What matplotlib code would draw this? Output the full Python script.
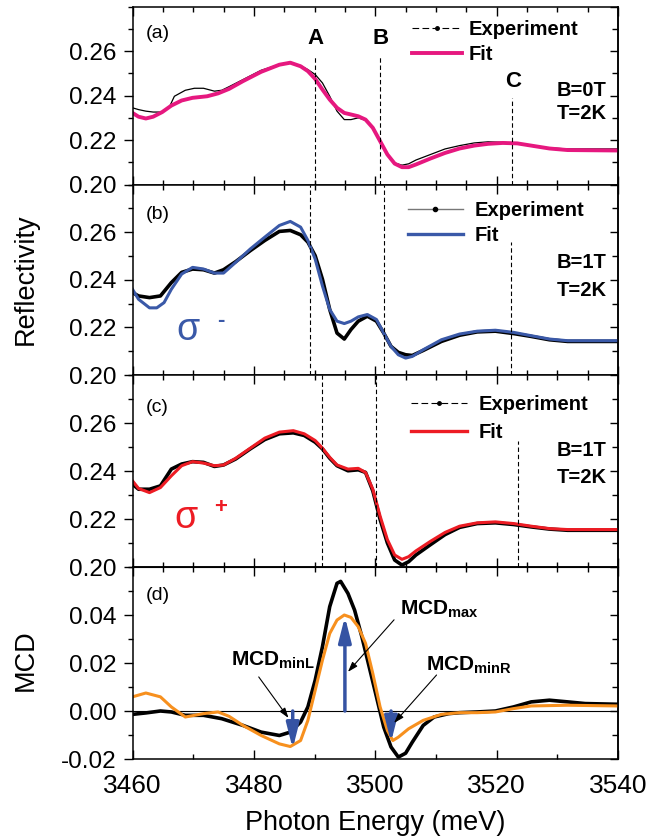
import numpy as np
import matplotlib
matplotlib.use("Agg")
import matplotlib.pyplot as plt
from matplotlib.lines import Line2D
from matplotlib.ticker import MultipleLocator
import matplotlib.transforms as mtransforms

plt.rcParams['font.family'] = ['Liberation Sans', 'DejaVu Sans']
plt.rcParams['mathtext.fontset'] = 'custom'
plt.rcParams['mathtext.rm'] = 'Liberation Sans'
plt.rcParams['mathtext.bf'] = 'Liberation Sans:bold'

# ---- datos ----
# (a) B=0T
E_a_exp = [3460.0, 3461.0, 3462.2, 3463.4, 3464.9, 3466.1, 3466.9, 3468.7, 3470.2, 3471.7, 3473.5, 3474.7,
           3475.9, 3478.2, 3481.2, 3484.2, 3486.0, 3487.7, 3488.9, 3490.1, 3491.3, 3492.5, 3493.7, 3494.9,
           3496.0, 3497.2, 3498.4, 3499.6, 3500.8, 3502.0, 3503.2, 3504.4, 3505.5, 3506.7, 3509.1, 3511.5,
           3513.9, 3516.3, 3518.6, 3521.0, 3523.4, 3525.7, 3528.7, 3531.7, 3540.0]
R_a_exp = [0.2345, 0.2337, 0.2330, 0.2326, 0.2326, 0.2350, 0.2397, 0.2424, 0.2433, 0.2433, 0.2420, 0.2424,
           0.2440, 0.2472, 0.2514, 0.2540, 0.2548, 0.2535, 0.2517, 0.2495, 0.2457, 0.2397, 0.2330, 0.2292,
           0.2292, 0.2300, 0.2289, 0.2255, 0.2202, 0.2135, 0.2097, 0.2087, 0.2093, 0.2110, 0.2135, 0.2160,
           0.2175, 0.2187, 0.2192, 0.2190, 0.2185, 0.2172, 0.2165, 0.2160, 0.2160]
E_a_fit = [3460.0, 3461.0, 3462.2, 3463.4, 3464.9, 3466.4, 3468.1, 3469.9, 3472.3, 3474.1, 3475.9, 3478.2,
           3481.2, 3484.2, 3486.0, 3487.7, 3488.9, 3490.1, 3491.3, 3492.5, 3493.7, 3494.9, 3496.0, 3497.2,
           3498.4, 3499.6, 3500.8, 3502.0, 3503.2, 3504.4, 3505.5, 3506.7, 3509.1, 3511.5, 3513.9, 3516.3,
           3518.6, 3521.0, 3523.4, 3525.7, 3528.7, 3531.7, 3540.0]
R_a_fit = [0.2322, 0.2305, 0.2297, 0.2305, 0.2326, 0.2355, 0.2378, 0.2390, 0.2397, 0.2410, 0.2430, 0.2465,
           0.2507, 0.2539, 0.2548, 0.2532, 0.2510, 0.2475, 0.2427, 0.2382, 0.2345, 0.2322, 0.2315, 0.2307,
           0.2292, 0.2255, 0.2195, 0.2135, 0.2094, 0.2078, 0.2078, 0.2090, 0.2117, 0.2142, 0.2162, 0.2175,
           0.2183, 0.2187, 0.2185, 0.2175, 0.2162, 0.2155, 0.2153]

# (b) sigma-
E_b_exp = [3460.0, 3461.0, 3462.8, 3464.6, 3466.4, 3468.1, 3469.9, 3471.7, 3473.5, 3475.0, 3477.0, 3479.4,
           3481.8, 3484.2, 3486.0, 3487.7, 3488.9, 3490.1, 3491.3, 3492.5, 3493.7, 3494.9, 3496.0, 3497.2,
           3498.7, 3500.2, 3501.4, 3502.6, 3503.8, 3505.0, 3506.1, 3507.9, 3510.9, 3513.9, 3516.8, 3519.8,
           3522.8, 3525.7, 3528.7, 3531.7, 3540.0]
R_b_exp = [0.2346, 0.2332, 0.2325, 0.2332, 0.2388, 0.2431, 0.2445, 0.2442, 0.2428, 0.2442, 0.2476, 0.2522,
           0.2565, 0.2603, 0.2607, 0.2589, 0.2558, 0.2501, 0.2402, 0.2275, 0.2176, 0.2151, 0.2191, 0.2226,
           0.2247, 0.2226, 0.2176, 0.2120, 0.2095, 0.2085, 0.2082, 0.2103, 0.2141, 0.2167, 0.2181, 0.2184,
           0.2174, 0.2162, 0.2148, 0.2141, 0.2141]
E_b_fit = [3460.0, 3461.0, 3462.8, 3464.0, 3465.2, 3466.4, 3468.1, 3469.9, 3471.7, 3473.5, 3475.0, 3477.0,
           3479.4, 3481.8, 3484.2, 3486.0, 3487.7, 3488.9, 3490.1, 3491.3, 3492.5, 3493.7, 3494.9, 3496.0,
           3497.2, 3498.7, 3500.2, 3501.4, 3502.6, 3503.8, 3505.0, 3506.1, 3507.9, 3510.9, 3513.9, 3516.8,
           3519.8, 3522.8, 3525.7, 3528.7, 3531.7, 3540.0]
R_b_fit = [0.2360, 0.2318, 0.2282, 0.2282, 0.2304, 0.2360, 0.2424, 0.2452, 0.2445, 0.2428, 0.2428, 0.2473,
           0.2529, 0.2579, 0.2628, 0.2645, 0.2621, 0.2565, 0.2487, 0.2374, 0.2275, 0.2226, 0.2216, 0.2226,
           0.2244, 0.2254, 0.2233, 0.2176, 0.2120, 0.2085, 0.2071, 0.2078, 0.2106, 0.2148, 0.2172, 0.2184,
           0.2188, 0.2179, 0.2165, 0.2151, 0.2144, 0.2144]

# (c) sigma+
E_c = [3460.0, 3461.0, 3462.8, 3464.6, 3466.4, 3468.1, 3469.9, 3471.7, 3473.5, 3475.0, 3477.0, 3479.4,
       3481.8, 3484.2, 3486.5, 3488.3, 3490.1, 3491.3, 3492.5, 3493.7, 3495.5, 3497.2, 3498.4, 3499.6,
       3500.8, 3502.0, 3503.2, 3504.4, 3505.5, 3506.7, 3509.1, 3511.5, 3513.9, 3516.8, 3519.8, 3522.8,
       3525.7, 3528.7, 3531.7, 3540.0]
R_c_exp = [0.2345, 0.2324, 0.2324, 0.2338, 0.2408, 0.2429, 0.2439, 0.2436, 0.2419, 0.2425, 0.2450, 0.2492,
           0.2531, 0.2555, 0.2559, 0.2548, 0.2520, 0.2492, 0.2453, 0.2422, 0.2401, 0.2405, 0.2394, 0.2317,
           0.2198, 0.2100, 0.2029, 0.2008, 0.2022, 0.2050, 0.2093, 0.2135, 0.2165, 0.2181, 0.2184, 0.2177,
           0.2167, 0.2158, 0.2153, 0.2153]
R_c_fit = [0.2359, 0.2327, 0.2310, 0.2331, 0.2380, 0.2422, 0.2439, 0.2433, 0.2422, 0.2425, 0.2453, 0.2495,
           0.2537, 0.2562, 0.2568, 0.2555, 0.2527, 0.2495, 0.2457, 0.2425, 0.2408, 0.2411, 0.2394, 0.2324,
           0.2212, 0.2114, 0.2050, 0.2032, 0.2043, 0.2067, 0.2107, 0.2144, 0.2170, 0.2184, 0.2188, 0.2181,
           0.2170, 0.2160, 0.2156, 0.2156]

# (d) MCD
E_d_exp = [3460.0, 3462.2, 3464.6, 3466.4, 3468.7, 3471.7, 3474.7, 3478.2, 3481.2, 3484.2, 3486.0, 3487.7,
           3488.9, 3490.1, 3491.3, 3492.5, 3493.7, 3494.3, 3495.5, 3496.6, 3497.8, 3499.0, 3500.2, 3501.4,
           3502.6, 3503.8, 3505.0, 3506.1, 3507.9, 3509.7, 3512.1, 3513.9, 3516.8, 3519.8, 3522.8, 3525.7,
           3528.7, 3531.7, 3534.6, 3540.0]
M_d_exp = [-0.0014, -0.0008, 0.0000, -0.0004, -0.0018, -0.0018, -0.0032, -0.0060, -0.0088, -0.0102, -0.0088,
           -0.0046, 0.0017, 0.0128, 0.0268, 0.0435, 0.0532, 0.0540, 0.0490, 0.0420, 0.0309, 0.0184, 0.0059,
           -0.0067, -0.0150, -0.0192, -0.0176, -0.0130, -0.0060, -0.0025, -0.0011, -0.0007, -0.0004, 0.0000,
           0.0017, 0.0038, 0.0045, 0.0038, 0.0031, 0.0028]
E_d_fit = [3460.0, 3462.2, 3464.6, 3466.4, 3468.7, 3471.7, 3474.1, 3475.9, 3478.2, 3481.2, 3484.2, 3486.0,
           3487.7, 3488.9, 3490.1, 3491.3, 3492.5, 3493.7, 3494.9, 3496.0, 3497.2, 3498.4, 3499.6, 3500.8,
           3502.0, 3502.9, 3503.8, 3505.5, 3507.9, 3510.9, 3513.9, 3516.8, 3519.8, 3522.8, 3525.7, 3531.7, 3540.0]
M_d_fit = [0.0059, 0.0075, 0.0059, 0.0017, -0.0025, -0.0011, -0.0004, -0.0022, -0.0060, -0.0102, -0.0137,
           -0.0148, -0.0123, -0.0039, 0.0086, 0.0212, 0.0323, 0.0379, 0.0400, 0.0390, 0.0351, 0.0282, 0.0156,
           0.0017, -0.0081, -0.0123, -0.0109, -0.0074, -0.0039, -0.0014, -0.0007, -0.0007, -0.0004, 0.0010,
           0.0021, 0.0024, 0.0021]

# lineas verticales (energia, valor superior) por panel
lineas_a = [(3490.1, 0.2577), (3500.8, 0.2577), (3522.6, 0.2390)]
lineas_b = [(3489.2, 0.28), (3501.4, 0.28), (3522.3, 0.2558)]
lineas_c = [(3491.2, 0.28), (3500.2, 0.28), (3523.5, 0.2524)]

# flechas MCD (energia, valor)
flechas = [(3486.4, -0.0157), (3495.0, 0.0393), (3502.6, -0.0130)]

col_mag = "#e6187f"
col_blue = "#3a59a8"
col_red = "#ed1c24"
col_orange = "#f7901e"
col_arrow = "#3553a3"

W, H = 663, 839
fig = plt.figure(figsize=(W/100, H/100), dpi=100)
gs = fig.add_gridspec(4, 1, height_ratios=[177.8, 190.5, 192, 192], hspace=0,
                      left=132.5/W, right=618/W, top=1-6.7/H, bottom=1-759/H)
axs = [fig.add_subplot(gs[i]) for i in range(4)]

for i, ax in enumerate(axs):
    ax.set_xlim(3460, 3540)
    ax.xaxis.set_major_locator(MultipleLocator(20))
    ax.xaxis.set_minor_locator(MultipleLocator(10 if i == 3 else 5))
    ax.yaxis.set_major_locator(MultipleLocator(0.02))
    ax.yaxis.set_minor_locator(MultipleLocator(0.01))
    ax.tick_params(axis="x", which="both", direction="in", top=(i < 3), width=1.0)
    ax.tick_params(axis="x", which="major", length=6.5)
    ax.tick_params(axis="x", which="minor", length=3.5)
    ax.tick_params(axis="y", which="both", direction="out", right=False, width=1.0,
                   labelsize=17.5, pad=5)
    ax.tick_params(axis="y", which="major", length=6.5)
    ax.tick_params(axis="y", which="minor", length=3.6)
    sec = ax.secondary_yaxis("right")
    sec.yaxis.set_major_locator(MultipleLocator(0.02))
    sec.yaxis.set_minor_locator(MultipleLocator(0.01))
    sec.tick_params(which="both", direction="in", labelright=False, width=1.0)
    sec.tick_params(which="major", length=5.5)
    sec.tick_params(which="minor", length=4)
    for s in list(ax.spines.values()) + list(sec.spines.values()):
        s.set_linewidth(1.1)
for ax in axs[:3]:
    ax.set_ylim(0.20, 0.28)
    ax.set_yticks([0.20, 0.22, 0.24, 0.26])
    ax.set_yticklabels(["0.20", "0.22", "0.24", "0.26"])
    ax.tick_params(labelbottom=False)

dash = (0, (4, 2.5))

# (a)
ax = axs[0]
ax.plot(E_a_exp, R_a_exp, color="k", lw=0.9)
ax.plot(E_a_fit, R_a_fit, color=col_mag, lw=2.8)
for x, top in lineas_a:
    ax.vlines(x, 0.20, top, colors="k", linestyles=dash, lw=0.8)
trans = mtransforms.blended_transform_factory(ax.transData, ax.transAxes)
ax.text(3490.1, 0.821, "A", transform=trans, ha="center", va="center", fontsize=16, fontweight="bold")
ax.text(3500.8, 0.821, "B", transform=trans, ha="center", va="center", fontsize=16, fontweight="bold")
ax.text(3522.7, 0.582, "C", transform=trans, ha="center", va="center", fontsize=16, fontweight="bold")
ax.text(0.027, 0.852, "(a)", transform=ax.transAxes, ha="left", va="center", fontsize=14)
ax.text(0.977, 0.531, "B=0T", transform=ax.transAxes, ha="right", va="center", fontsize=14.5, fontweight="bold")
ax.text(0.977, 0.397, "T=2K", transform=ax.transAxes, ha="right", va="center", fontsize=14.5, fontweight="bold")
h = [Line2D([], [], color="k", lw=0.8, ls=(0, (6, 3)), marker=".", markersize=5),
     Line2D([], [], color=col_mag, lw=2.8)]
ax.legend(h, ["Experiment", "Fit"], loc="upper left", bbox_to_anchor=(0.576, 0.925), frameon=False,
          prop={"size": 14.5, "weight": "bold"}, handlelength=2.5, handletextpad=0.3, labelspacing=0.3,
          borderaxespad=0, borderpad=0)

# (b)
ax = axs[1]
ax.plot(E_b_exp, R_b_exp, color="k", lw=2.6)
ax.plot(E_b_fit, R_b_fit, color=col_blue, lw=2.2)
for x, top in lineas_b:
    ax.vlines(x, 0.20, top, colors="k", linestyles=dash, lw=0.8)
ax.text(0.027, 0.84, "(b)", transform=ax.transAxes, ha="left", va="center", fontsize=14)
ax.text(0.977, 0.588, "B=1T", transform=ax.transAxes, ha="right", va="center", fontsize=14.5, fontweight="bold")
ax.text(0.977, 0.446, "T=2K", transform=ax.transAxes, ha="right", va="center", fontsize=14.5, fontweight="bold")
ax.text(3469.1, 0.219, "σ", ha="center", va="center", fontsize=27, color=col_blue)
ax.text(3474.5, 0.2228, "-", ha="center", va="center", fontsize=16, fontweight="bold", color=col_blue)
h = [Line2D([], [], color="#777777", lw=1.0, marker="o", markersize=3, markerfacecolor="k",
            markeredgecolor="k"),
     Line2D([], [], color=col_blue, lw=2.4)]
ax.legend(h, ["Experiment", "Fit"], loc="upper left", bbox_to_anchor=(0.568, 0.912), frameon=False,
          prop={"size": 14.5, "weight": "bold"}, handlelength=2.7, handletextpad=0.6, labelspacing=0.3,
          borderaxespad=0, borderpad=0)

# (c)
ax = axs[2]
ax.plot(E_c, R_c_exp, color="k", lw=2.6)
ax.plot(E_c, R_c_fit, color=col_red, lw=2.2)
for x, top in lineas_c:
    ax.vlines(x, 0.20, top, colors="k", linestyles=dash, lw=0.8)
ax.text(0.027, 0.833, "(c)", transform=ax.transAxes, ha="left", va="center", fontsize=14)
ax.text(0.977, 0.609, "B=1T", transform=ax.transAxes, ha="right", va="center", fontsize=14.5, fontweight="bold")
ax.text(0.977, 0.464, "T=2K", transform=ax.transAxes, ha="right", va="center", fontsize=14.5, fontweight="bold")
ax.text(3468.8, 0.2206, "σ", ha="center", va="center", fontsize=27, color=col_red)
ax.text(3474.5, 0.2248, "+", ha="center", va="center", fontsize=16, fontweight="bold", color=col_red)
h = [Line2D([], [], color="k", lw=0.8, ls=(0, (6, 3)), marker=".", markersize=5),
     Line2D([], [], color=col_red, lw=2.4)]
ax.legend(h, ["Experiment", "Fit"], loc="upper left", bbox_to_anchor=(0.574, 0.895), frameon=False,
          prop={"size": 14.5, "weight": "bold"}, handlelength=2.75, handletextpad=0.6, labelspacing=0.42,
          borderaxespad=0, borderpad=0)

# (d)
ax = axs[3]
ax.set_ylim(-0.02, 0.06)
ax.set_yticks([-0.02, 0.00, 0.02, 0.04])
ax.set_yticklabels(["-0.02", "0.00", "0.02", "0.04"])
secx = ax.secondary_xaxis("top")
secx.xaxis.set_major_locator(MultipleLocator(20))
secx.xaxis.set_minor_locator(MultipleLocator(5))
secx.tick_params(which="both", direction="in", labeltop=False, width=1.0)
secx.tick_params(which="major", length=6.5)
secx.tick_params(which="minor", length=3.5)
ax.axhline(0, color="k", lw=0.8)
ax.plot(E_d_exp, M_d_exp, color="k", lw=2.6)
ax.plot(E_d_fit, M_d_fit, color=col_orange, lw=2.2)
for x, tip in flechas:
    ax.annotate("", xy=(x, tip), xytext=(x, 0.0),
                arrowprops=dict(arrowstyle="-|>,head_length=1.5,head_width=0.38", color=col_arrow,
                                lw=2.5, shrinkA=0, shrinkB=0))
ax.text(0.027, 0.854, "(d)", transform=ax.transAxes, ha="left", va="center", fontsize=14)
ax.text(3476.2, 0.0192, r"$\mathbf{MCD}_{\mathbf{minL}}$", fontsize=15, va="baseline")
ax.text(3504.0, 0.0401, r"$\mathbf{MCD}_{\mathbf{max}}$", fontsize=15, va="baseline")
ax.text(3508.3, 0.0171, r"$\mathbf{MCD}_{\mathbf{minR}}$", fontsize=15, va="baseline")
black_arrow = dict(arrowstyle="-|>,head_length=0.6,head_width=0.2", color="k", lw=0.8, shrinkA=0, shrinkB=0)
ax.annotate("", xy=(3485.7, -0.0029), xytext=(3480.8, 0.0142), arrowprops=black_arrow)
ax.annotate("", xy=(3495.5, 0.0163), xytext=(3503.1, 0.0380), arrowprops=black_arrow)
ax.annotate("", xy=(3503.1, -0.0050), xytext=(3510.1, 0.0150), arrowprops=black_arrow)
ax.set_xticks([3460, 3480, 3500, 3520, 3540])
ax.tick_params(axis="x", labelsize=19, pad=11)

fig.text(375/W, 1-823/H, "Photon Energy (meV)", ha="center", va="center", fontsize=19.5)
fig.text(26/W, 1-279/H, "Reflectivity", rotation=90, ha="center", va="center", fontsize=19.5)
fig.text(26/W, 1-660/H, "MCD", rotation=90, ha="center", va="center", fontsize=19.5)

fig.savefig("out.png", dpi=100)
